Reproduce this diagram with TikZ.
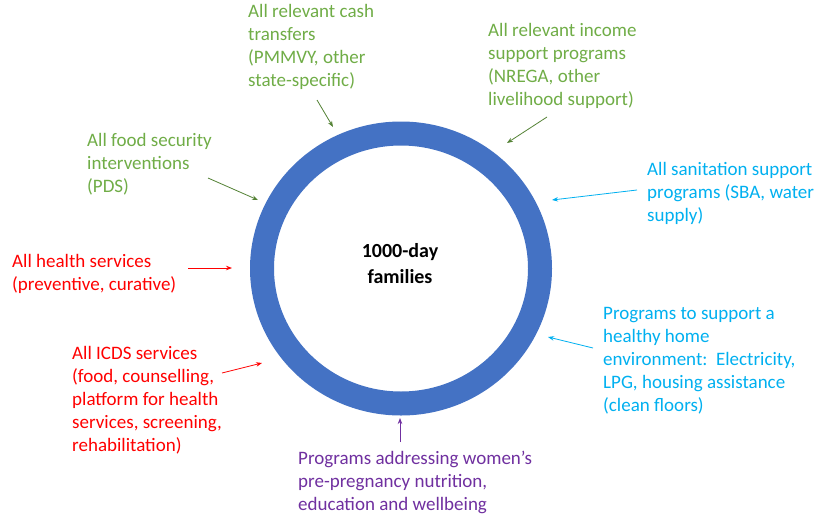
\documentclass[tikz,border=0pt]{standalone}
\usepackage{fontspec}
\setmainfont{Carlito}
\usetikzlibrary{arrows.meta}
\definecolor{ringblue}{RGB}{68,114,196}
\definecolor{gtext}{RGB}{112,173,71}
\definecolor{garrow}{RGB}{84,130,53}
\definecolor{ctext}{RGB}{0,176,240}
\definecolor{rtext}{RGB}{255,0,0}
\definecolor{ptext}{RGB}{112,48,160}
\tikzset{
  lbl/.style={anchor=base west, align=left, inner sep=0pt, font=\fontsize{19}{23}\selectfont},
  conn/.style={line width=0.8pt, -{Stealth[length=6pt,width=4.5pt]}},
}
\begin{document}
\begin{tikzpicture}[x=1pt,y=-1pt]
\useasboundingbox (0,0) rectangle (817,520);
\fill[white] (0,0) rectangle (817,520);
% ring
\draw[ringblue, line width=24pt] (401,268.5) ellipse [x radius=139, y radius=135];
\node[anchor=base, inner sep=0pt, align=center, font=\fontsize{20}{26}\selectfont\bfseries] (center) at (400,283) {1000-day\\families};
% labels (anchor = baseline of the last line)
\node[lbl, text=gtext] (cash) at (248,86) {All relevant cash\\transfers\\(PMMVY, other\\state-specific)};
\node[lbl, text=gtext] (food) at (87,192) {All food security\\interventions\\(PDS)};
\node[lbl, text=gtext] (income) at (488,105) {All relevant income\\support programs\\(NREGA, other\\livelihood support)};
\node[lbl, text=ctext] (sanit) at (647,221) {All sanitation support\\programs (SBA, water\\supply)};
\node[lbl, text=rtext] (health) at (12,290) {All health services\\(preventive, curative)};
\node[lbl, text=rtext] (icds) at (72,451) {All ICDS services\\(food, counselling,\\platform for health\\services, screening,\\rehabilitation)};
\node[lbl, text=ptext] (women) at (298,510) {Programs addressing women’s\\pre-pregnancy nutrition,\\education and wellbeing};
\node[lbl, text=ctext] (home) at (603,411) {Programs to support a\\healthy home\\environment:\ \ Electricity,\\LPG, housing assistance\\(clean floors)};
% connector end points
\coordinate (cashA) at (317,100); \coordinate (cashB) at (333,127);
\coordinate (foodA) at (208,178); \coordinate (foodB) at (258,200);
\coordinate (incA) at (547,117); \coordinate (incB) at (507,143);
\coordinate (sanA) at (637,190); \coordinate (sanB) at (552,200);
\coordinate (heaA) at (188,268); \coordinate (heaB) at (232,268);
\coordinate (icdA) at (222,373); \coordinate (icdB) at (262,363);
\coordinate (womA) at (400,442); \coordinate (womB) at (400,418);
\coordinate (homA) at (593,348); \coordinate (homB) at (548,337);
\draw[conn, garrow] (cashA) -- (cashB);
\draw[conn, garrow] (foodA) -- (foodB);
\draw[conn, garrow] (incA) -- (incB);
\draw[conn, ctext] (sanA) -- (sanB);
\draw[conn, rtext] (heaA) -- (heaB);
\draw[conn, rtext] (icdA) -- (icdB);
\draw[conn, ptext] (womA) -- (womB);
\draw[conn, ctext] (homA) -- (homB);
\end{tikzpicture}
\end{document}
